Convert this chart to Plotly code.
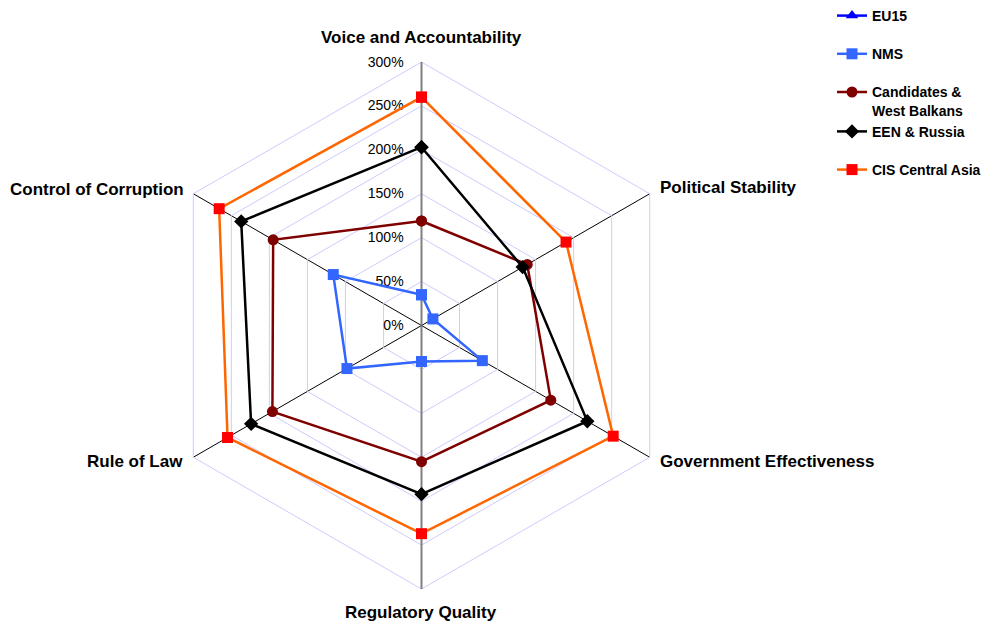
import plotly.graph_objects as go

categories = ["Voice and Accountability", "Political Stability", "Government Effectiveness",
              "Regulatory Quality", "Rule of Law", "Control of Corruption"]

eu15 = [0, 0, 0, 0, 0, 0]
nms = [35, 15, 80, 41, 98, 116]
candidates = [119, 139, 170, 155, 196, 195]
een_russia = [203, 133, 218, 192, 224, 237]
cis_central_asia = [260, 190, 252, 237, 255, 266]

series = [
    ("EU15", eu15, "#0000ff", "#0000ff", "triangle-up", "a"),
    ("NMS", nms, "#3366ff", "#3366ff", "square", "b"),
    ("Candidates &<br>West Balkans", candidates, "#800000", "#800000", "circle", "c"),
    ("EEN & Russia", een_russia, "#000000", "#000000", "diamond", "c"),
    ("CIS Central Asia", cis_central_asia, "#ff6600", "#ff0000", "square", "d"),
]

fig = go.Figure()

# invisible trace so the background polar (grid + spokes) knows the categories
fig.add_trace(go.Scatterpolar(
    r=eu15, theta=categories, mode="markers", subplot="polar",
    marker=dict(opacity=0), showlegend=False, hoverinfo="skip",
))

for name, vals, lc, mc, sym, grp in series:
    fig.add_trace(go.Scatterpolar(
        r=vals + vals[:1],
        theta=categories + categories[:1],
        mode="lines+markers",
        name=name,
        legendgroup=grp,
        subplot="polar2",
        line=dict(color=lc, width=2.5),
        marker=dict(color=mc, symbol=sym, size=11),
    ))

font = "Arial, Liberation Sans, sans-serif"
W, H = 986, 623

# axis category labels placed around the hexagon (pixel anchor, alignment)
label_pos = [
    (421, 38, "center", "middle"),
    (658, 188, "left", "middle"),
    (658, 461, "left", "middle"),
    (421, 612, "center", "middle"),
    (185, 461, "right", "middle"),
    (186, 190, "right", "middle"),
]
for text, (px, py, xa, ya) in zip(categories, label_pos):
    fig.add_annotation(
        x=px / W, y=1 - py / H, xref="paper", yref="paper",
        text=text, showarrow=False, xanchor=xa, yanchor=ya,
        font=dict(size=17, weight="bold", family=font, color="black"),
    )

domain = dict(x=[158 / W, 685 / W], y=[34 / H, 561 / H])

fig.update_layout(
    width=W,
    height=H,
    margin=dict(l=0, r=0, t=0, b=0),
    paper_bgcolor="white",
    font=dict(family=font, color="black"),
    polar=dict(
        domain=domain,
        bgcolor="white",
        gridshape="linear",
        angularaxis=dict(
            direction="clockwise",
            rotation=90,
            showline=True,
            linecolor="#ccccff",
            linewidth=1,
            gridcolor="black",
            gridwidth=1,
            ticks="",
            showticklabels=False,
        ),
        radialaxis=dict(
            range=[0, 300],
            dtick=50,
            ticksuffix="%",
            angle=90,
            side="counterclockwise",
            tickangle=90,
            showline=True,
            linecolor="#808080",
            linewidth=2,
            gridcolor="#ccccff",
            gridwidth=1,
            ticks="outside",
            ticklen=12,
            tickcolor="rgba(0,0,0,0)",
            tickfont=dict(size=14, family=font),
        ),
    ),
    polar2=dict(
        domain=domain,
        bgcolor="rgba(0,0,0,0)",
        gridshape="linear",
        angularaxis=dict(
            direction="clockwise",
            rotation=90,
            showline=False,
            showgrid=False,
            ticks="",
            showticklabels=False,
        ),
        radialaxis=dict(
            range=[0, 300],
            angle=270,
            showgrid=False,
            showline=True,
            linecolor="#808080",
            linewidth=2,
            ticks="",
            showticklabels=False,
            layer="below traces",
        ),
    ),
    legend=dict(
        x=1.0, y=1.0, xanchor="right", yanchor="top",
        font=dict(size=14, weight="bold", family=font),
        tracegroupgap=17,
        valign="top",
        bgcolor="rgba(0,0,0,0)",
    ),
)

fig.write_html("out.html", config={"displayModeBar": False},
               post_script="document.body.style.margin='0';")
